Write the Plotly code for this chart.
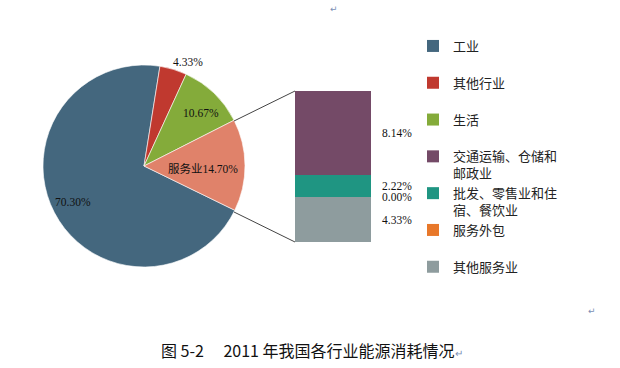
import plotly.graph_objects as go

W, H = 620, 368

# ---- data ----
pie_labels = ["工业", "其他行业", "生活", "服务业"]
pie_values = [70.30, 4.33, 10.67, 14.70]
pie_colors = ["#44677e", "#c0392f", "#84ab3a", "#e0826a"]

bar_labels = ["交通运输、仓储和<br>邮政业", "批发、零售业和住<br>宿、餐饮业", "服务外包", "其他服务业"]
bar_values = [8.14, 2.22, 0.00, 4.33]
bar_colors = ["#744a67", "#1f9582", "#e8782a", "#8e9c9e"]

title_text = "图 5-2　 2011 年我国各行业能源消耗情况"

def px(x):
    return x / W

def py(y):
    return 1 - y / H

def two_line(s):
    return s if "<br>" in s else s + "<br> "

fig = go.Figure()

# pie
fig.add_trace(go.Pie(
    labels=pie_labels,
    values=pie_values,
    marker=dict(colors=pie_colors, line=dict(color="white", width=0.6)),
    sort=False,
    direction="clockwise",
    rotation=116,
    textinfo="none",
    hoverinfo="label+percent",
    domain=dict(x=[px(43), px(245)], y=[py(267), py(65)]),
    showlegend=False,
))

# legend entries for the first three pie slices (the 服务业 slice is expanded in the bar)
for i in range(3):
    fig.add_trace(go.Bar(
        x=[None], y=[None], name=two_line(pie_labels[i]),
        marker=dict(color=pie_colors[i], line=dict(width=0)),
        xaxis="x", yaxis="y", legendrank=1 + i, hoverinfo="skip",
    ))

# stacked bar (bottom segment first)
order = [3, 2, 1, 0]
for i in order:
    fig.add_trace(go.Bar(
        x=[0], y=[bar_values[i]],
        name=two_line(bar_labels[i]),
        marker=dict(color=bar_colors[i], line=dict(width=0)),
        width=1,
        xaxis="x", yaxis="y",
        legendrank=10 + i,
        hoverinfo="name+y",
    ))

total = sum(bar_values)
fig.update_layout(
    width=W, height=H,
    margin=dict(l=0, r=0, t=0, b=0),
    paper_bgcolor="white", plot_bgcolor="rgba(0,0,0,0)",
    barmode="stack",
    xaxis=dict(domain=[px(295), px(447)], range=[-0.5, 1.5], visible=False, fixedrange=True),
    yaxis=dict(domain=[py(242), py(91)], range=[0, total], visible=False, fixedrange=True),
    showlegend=True,
    legend=dict(
        x=px(413), y=py(31), xanchor="left", yanchor="top",
        traceorder="normal", valign="top",
        font=dict(family="Noto Sans CJK SC", size=13, color="#222"),
        itemwidth=30, bgcolor="rgba(0,0,0,0)",
    ),
)

# pie value labels
serif = "Liberation Serif"
pie_label_pos = [(73, 202), (188, 62), (201, 113)]
for i in range(3):
    x, y = pie_label_pos[i]
    fig.add_annotation(x=px(x), y=py(y), xref="paper", yref="paper",
                       xanchor="center", yanchor="middle",
                       text=f"{pie_values[i]:.2f}%", showarrow=False,
                       font=dict(family=serif, size=11.5, color="#111"))
fig.add_annotation(x=px(203), y=py(168), xref="paper", yref="paper",
                   xanchor="center", yanchor="middle",
                   text=f"{pie_labels[3]}{pie_values[3]:.2f}%", showarrow=False,
                   font=dict(family="Liberation Serif, Noto Sans CJK SC", size=11.5, color="#111"))

# bar value labels (to the right of each segment)
cum = 0
label_y = {}
for i in order:
    label_y[i] = cum + bar_values[i] / 2
    cum += bar_values[i]
for i in range(4):
    fig.add_annotation(x=0.62, y=label_y[i], xref="x", yref="y",
                       xanchor="left", yanchor="middle",
                       text=f"{bar_values[i]:.2f}%", showarrow=False,
                       font=dict(family=serif, size=11.5, color="#111"))

# connector lines from pie to bar
fig.add_shape(type="line", xref="paper", yref="paper",
              x0=px(234), y0=py(121), x1=px(295), y1=py(91),
              line=dict(color="#444", width=1))
fig.add_shape(type="line", xref="paper", yref="paper",
              x0=px(234), y0=py(212), x1=px(295), y1=py(242),
              line=dict(color="#444", width=1))

# title
fig.add_annotation(x=px(312), y=py(350), xref="paper", yref="paper",
                   xanchor="center", yanchor="middle",
                   text=title_text + "<span style='color:#7a8fb5;font-size:10px'>↵</span>",
                   showarrow=False,
                   font=dict(family="Noto Sans CJK SC", size=16, color="#111"))
# paragraph marks
fig.add_annotation(x=px(334), y=py(9), xref="paper", yref="paper", text="↵",
                   xanchor="center", yanchor="middle",
                   showarrow=False, font=dict(family="DejaVu Sans", size=9, color="#7a8fb5"))
fig.add_annotation(x=px(592), y=py(311), xref="paper", yref="paper", text="↵",
                   xanchor="center", yanchor="middle",
                   showarrow=False, font=dict(family="DejaVu Sans", size=9, color="#7a8fb5"))

fig.write_html("out.html",
               config={"displayModeBar": False},
               post_script="document.body.style.margin='0';document.body.style.overflow='hidden';")
